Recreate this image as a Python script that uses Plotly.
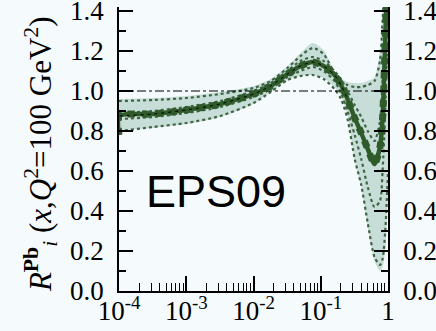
import plotly.graph_objects as go

# x positions (Bjorken x)
x_vals = [1.00e-4, 1.015e-4, 3.2e-4, 1.0e-3, 3.2e-3, 1.0e-2, 1.8e-2, 3.2e-2, 5.0e-2, 7.6e-2,
          0.11, 0.16, 0.20, 0.25, 0.32, 0.40, 0.50, 0.63, 0.76, 0.83, 0.91, 1.0]
central = [0.78, 0.875, 0.885, 0.905, 0.935, 0.985, 1.025, 1.085, 1.125, 1.145,
           1.125, 1.08, 1.03, 0.96, 0.865, 0.79, 0.71, 0.635, 0.72, 0.86, 1.25, 1.75]
upper = [0.96, 0.96, 0.965, 0.975, 0.995, 1.025, 1.06, 1.125, 1.19, 1.24,
         1.205, 1.1, 1.065, 1.045, 1.04, 1.04, 1.05, 1.07, 1.2, 1.4, 1.7, 2.0]
lower = [0.65, 0.79, 0.815, 0.835, 0.87, 0.935, 0.995, 1.055, 1.075, 1.08,
         1.065, 1.02, 0.975, 0.88, 0.65, 0.52, 0.32, 0.15, 0.10, 0.12, 0.20, 0.50]
member_a = [0.95, 0.95, 0.955, 0.965, 0.985, 1.015, 1.05, 1.115, 1.175, 1.215,
            1.185, 1.09, 1.05, 1.03, 1.02, 1.02, 1.03, 1.05, 1.15, 1.35, 1.6, 1.9]
member_b = [0.80, 0.80, 0.82, 0.84, 0.875, 0.94, 0.995, 1.055, 1.075, 1.08,
            1.06, 1.01, 0.96, 0.86, 0.66, 0.53, 0.34, 0.17, 0.13, 0.16, 0.30, 0.60]
member_c = [0.89, 0.89, 0.90, 0.92, 0.95, 1.00, 1.04, 1.10, 1.15, 1.17,
            1.15, 1.10, 1.06, 1.00, 0.93, 0.87, 0.80, 0.75, 0.85, 1.05, 1.35, 1.8]
member_d = [0.86, 0.86, 0.87, 0.89, 0.92, 0.97, 1.01, 1.07, 1.10, 1.12,
            1.10, 1.05, 0.99, 0.90, 0.78, 0.66, 0.52, 0.42, 0.45, 0.60, 0.90, 1.4]

y_ticks = [0.0, 0.2, 0.4, 0.6, 0.8, 1.0, 1.2, 1.4]
y_ticktext = ["0.0", "0.2", "0.4", "0.6", "0.8", "1.0", "1.2", "1.4"]
y_minor = [0.1, 0.3, 0.5, 0.7, 0.9, 1.1, 1.3]
x_ticks = [1e-4, 1e-3, 1e-2, 1e-1, 1]
x_ticktext = ["10<sup>-4</sup>", "10<sup>-3</sup>", "10<sup>-2</sup>", "10<sup>-1</sup>", "1"]
x_minor = [m * d for d in [1e-4, 1e-3, 1e-2, 1e-1] for m in range(2, 10)]

BG = "#f5fbfd"
BAND = "#c7ddd8"
GREEN = "#2f5a2a"
DOTC = "#3f6443"
SERIF = "Liberation Serif"

fig = go.Figure()
fig.add_trace(go.Scatter(x=x_vals, y=upper, mode="lines", line=dict(width=0, shape="spline", smoothing=0.7),
                         showlegend=False, hoverinfo="skip"))
fig.add_trace(go.Scatter(x=x_vals, y=lower, mode="lines", line=dict(width=0, shape="spline", smoothing=0.7),
                         fill="tonexty", fillcolor=BAND, showlegend=False, hoverinfo="skip"))
for m in [member_a, member_b, member_c, member_d]:
    fig.add_trace(go.Scatter(x=x_vals, y=m, mode="lines",
                             line=dict(color=DOTC, width=2.2, dash="dot", shape="spline", smoothing=0.7),
                             showlegend=False, hoverinfo="skip"))
# reference line at 1
fig.add_trace(go.Scatter(x=[x_ticks[0], x_ticks[-1]], y=[1.0, 1.0], mode="lines",
                         line=dict(color="black", width=1.2, dash="dashdot"), showlegend=False))
fig.add_trace(go.Scatter(x=x_vals, y=central, mode="lines",
                         line=dict(color=GREEN, width=4.5, shape="spline", smoothing=0.7),
                         showlegend=False))
fig.add_trace(go.Scatter(x=x_vals, y=central, mode="lines",
                         line=dict(color=GREEN, width=7, dash="dot", shape="spline", smoothing=0.7),
                         showlegend=False))
fig.add_trace(go.Scatter(x=x_vals[1:14], y=central[1:14], mode="lines",
                         line=dict(color="black", width=1.0, dash="3px,4px", shape="spline", smoothing=0.7),
                         showlegend=False))
# invisible trace for right axis
fig.add_trace(go.Scatter(x=[x_ticks[0]], y=[0], yaxis="y2", mode="markers",
                         marker=dict(opacity=0), showlegend=False, hoverinfo="skip"))

tickfont = dict(family=SERIF, size=27, color="black")
yax = dict(range=[0, 1.42], tickmode="array", tickvals=y_ticks, ticktext=y_ticktext,
           ticks="inside", ticklen=14, tickwidth=1.5, tickcolor="black",
           showline=True, linewidth=1.5, linecolor="black", showgrid=False, zeroline=False,
           tickfont=tickfont, ticklabelstandoff=8, automargin=False, ticklabeloverflow="allow",
           minor=dict(tickmode="array", tickvals=y_minor, ticks="inside", ticklen=7,
                      tickwidth=1.5, tickcolor="black", showgrid=False))
fig.update_layout(
    width=436, height=331,
    margin=dict(l=119, r=48, t=7, b=40),
    paper_bgcolor=BG, plot_bgcolor=BG,
    showlegend=False,
    xaxis=dict(type="log", range=[-4, 0], tickmode="array", tickvals=x_ticks, ticktext=x_ticktext,
               ticks="inside", ticklen=15, tickwidth=1.5, tickcolor="black",
               showline=True, linewidth=1.5, linecolor="black", showgrid=False, zeroline=False,
               tickfont=tickfont, ticklabelstandoff=-5, automargin=False, ticklabeloverflow="allow",
               minor=dict(tickmode="array", tickvals=x_minor, ticks="inside", ticklen=8,
                          tickwidth=1.2, tickcolor="black", showgrid=False)),
    yaxis=yax,
    yaxis2=dict(yax, overlaying="y", side="right", anchor="x"),
    annotations=[
        dict(text="EPS09", xref="paper", yref="paper", x=0.3606, y=0.352, showarrow=False,
             font=dict(family="Liberation Sans", size=45, color="black"), xanchor="center", yanchor="middle"),
        dict(text="<i>R</i><sup><b>Pb</b></sup><sub><i>i</i></sub> (<i>x</i>,<i>Q</i><sup>2</sup>=100 GeV<sup>2</sup>)",
             xref="paper", yref="paper", x=-0.29, y=0.482, textangle=-90, showarrow=False,
             font=dict(family=SERIF, size=31, color="black"), xanchor="center", yanchor="middle"),
    ],
)
fig.write_html("out.html")
